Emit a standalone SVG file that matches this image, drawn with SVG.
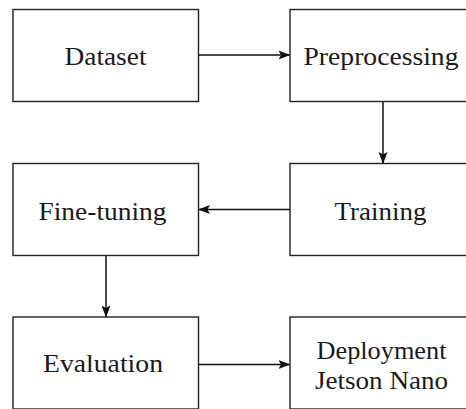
<svg xmlns="http://www.w3.org/2000/svg" width="466" height="409" viewBox="0 0 466 409">
  <style>
    .box { fill: #ffffff; stroke: #222222; stroke-width: 1.4; }
    .label { font-family: "Liberation Serif", "Times New Roman", serif; font-size: 26px; fill: #1a1a1a; text-anchor: middle; }
    .edge { fill: none; stroke: #111111; stroke-width: 1.5; }
  </style>
  <defs>
    <marker id="arrow" viewBox="0 0 12 10" markerWidth="12" markerHeight="10" refX="11" refY="5" orient="auto" markerUnits="userSpaceOnUse">
      <path d="M0,0.5 L12,5 L0,9.5 L2.5,5 Z" fill="#111111"/>
    </marker>
  </defs>
  <rect width="466" height="409" fill="#ffffff"/>

  <g id="dataset">
    <rect class="box" x="13" y="9.5" width="185.5" height="92"/>
    <text class="label" x="105.5" y="64.5" textLength="82" lengthAdjust="spacingAndGlyphs">Dataset</text>
  </g>
  <g id="preprocessing">
    <rect class="box" x="290" y="9.5" width="186" height="92"/>
    <text class="label" x="381" y="64.5" textLength="155" lengthAdjust="spacingAndGlyphs">Preprocessing</text>
  </g>
  <g id="training">
    <rect class="box" x="290" y="163.5" width="186" height="92"/>
    <text class="label" x="380.5" y="219.5" textLength="92" lengthAdjust="spacingAndGlyphs">Training</text>
  </g>
  <g id="fine-tuning">
    <rect class="box" x="13" y="163.5" width="185.5" height="92"/>
    <text class="label" x="102.5" y="219.5" textLength="128" lengthAdjust="spacingAndGlyphs">Fine-tuning</text>
  </g>
  <g id="evaluation">
    <rect class="box" x="13" y="317" width="185.5" height="92"/>
    <text class="label" x="103" y="372" textLength="120" lengthAdjust="spacingAndGlyphs">Evaluation</text>
  </g>
  <g id="deployment">
    <rect class="box" x="290" y="317" width="186" height="92"/>
    <text class="label" x="381.5" y="358.5" textLength="130" lengthAdjust="spacingAndGlyphs">Deployment</text>
    <text class="label" x="381.5" y="388.5" textLength="133" lengthAdjust="spacingAndGlyphs">Jetson Nano</text>
  </g>

  <g id="connectors">
    <line class="edge" x1="198.5" y1="55" x2="289.5" y2="55" marker-end="url(#arrow)"/>
    <line class="edge" x1="383" y1="101.5" x2="383" y2="163" marker-end="url(#arrow)"/>
    <line class="edge" x1="290" y1="209.5" x2="199" y2="209.5" marker-end="url(#arrow)"/>
    <line class="edge" x1="106" y1="255.5" x2="106" y2="316.5" marker-end="url(#arrow)"/>
    <line class="edge" x1="198.5" y1="364.5" x2="289.5" y2="364.5" marker-end="url(#arrow)"/>
  </g>
</svg>
